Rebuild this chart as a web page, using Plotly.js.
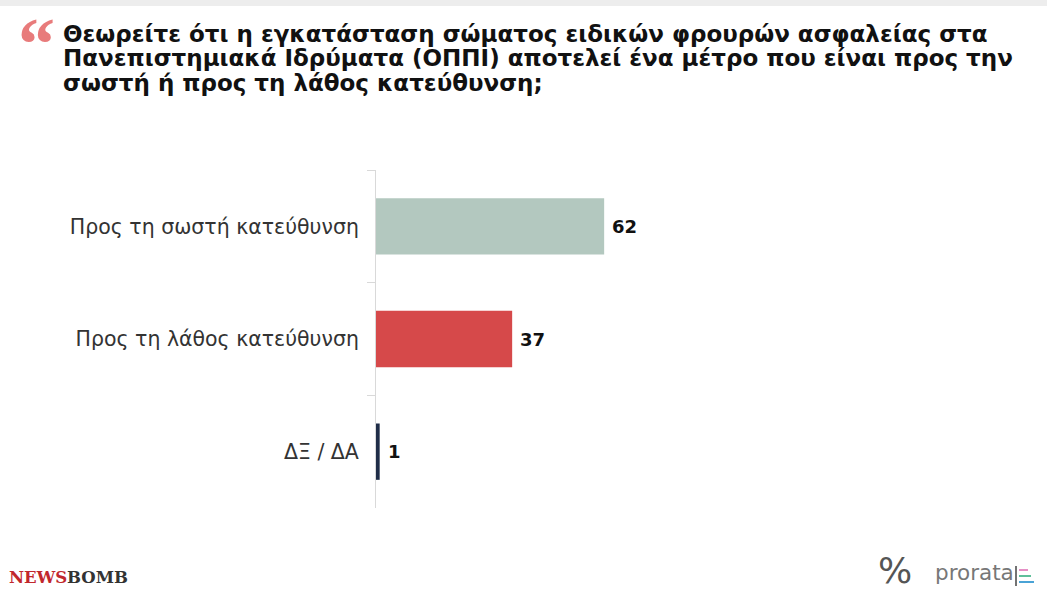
<!DOCTYPE html>
<html>
<head>
<meta charset="utf-8">
<script src="https://cdn.plot.ly/plotly-3.0.1.min.js"></script>
<style>html,body{margin:0;padding:0;background:#fff;}#chart{width:1047px;height:592px;}</style>
</head>
<body>
<div id="chart"></div>
<script>
const categories = ["Προς τη σωστή κατεύθυνση", "Προς τη λάθος κατεύθυνση", "ΔΞ / ΔΑ"];
const values = [62, 37, 1];
const barColors = ["#b3c8bf", "#d6494a", "#1f2d48"];
const titleLines = [
  "Θεωρείτε ότι η εγκατάσταση σώματος ειδικών φρουρών ασφαλείας στα",
  "Πανεπιστημιακά Ιδρύματα (ΟΠΠΙ) αποτελεί ένα μέτρο που είναι προς την",
  "σωστή ή προς τη λάθος κατεύθυνση;"
];

const W = 1047, H = 592, ML = 376, MR = 303, MT = 170, MB = 84;
const PW = W - ML - MR, PH = H - MT - MB;
const px = x => (x - ML) / PW;            // pixel -> paper x
const py = y => (H - MB - y) / PH;        // pixel -> paper y

const trace = {
  type: "bar",
  orientation: "h",
  x: values,
  y: categories,
  width: 0.5,
  marker: {color: barColors},
  hoverinfo: "none"
};

const valueAnnotations = values.map((v, i) => ({
  x: v, y: categories[i], xref: "x", yref: "y",
  text: "<b>" + v + "</b>", showarrow: false,
  xanchor: "left", yanchor: "middle", xshift: 6,
  font: {family: "DejaVu Sans", size: 18, color: "#111"}
}));

const titleAnnotations = titleLines.map((t, i) => ({
  xref: "paper", yref: "paper", x: px(61), y: py(33.5 + 25 * i),
  xanchor: "left", yanchor: "middle", showarrow: false,
  text: "<b>" + t + "</b>",
  font: {family: "DejaVu Sans", size: 23, color: "#111"}
}));

const layout = {
  width: W, height: H,
  paper_bgcolor: "#fff", plot_bgcolor: "#fff",
  margin: {l: ML, r: MR, t: MT, b: MB},
  showlegend: false,
  xaxis: {range: [0, 100], visible: false, fixedrange: true},
  yaxis: {
    type: "category",
    autorange: "reversed",
    showline: true, linecolor: "#d9d9d9", linewidth: 1,
    ticks: "outside", tickson: "boundaries", ticklen: 8, tickcolor: "#d9d9d9",
    ticklabelstandoff: 12,
    showgrid: false, zeroline: false,
    tickfont: {family: "DejaVu Sans", size: 20.5, color: "#333"}
  },
  shapes: [
    {type: "rect", xref: "paper", yref: "paper", x0: px(-5), x1: px(W + 5), y0: py(0), y1: py(6),
     fillcolor: "#ededed", line: {width: 0}, layer: "below"},
    {type: "line", xref: "paper", yref: "paper", x0: px(1016), x1: px(1016), y0: py(566), y1: py(586), line: {color: "#444", width: 1.5}},
    {type: "line", xref: "paper", yref: "paper", x0: px(1019), x1: px(1028), y0: py(570), y1: py(570), line: {color: "#e58fc5", width: 2}},
    {type: "line", xref: "paper", yref: "paper", x0: px(1019), x1: px(1031), y0: py(576), y1: py(576), line: {color: "#5fbf9a", width: 2}},
    {type: "line", xref: "paper", yref: "paper", x0: px(1019), x1: px(1034), y0: py(582), y1: py(582), line: {color: "#4aa3d6", width: 2}}
  ],
  annotations: valueAnnotations.concat(titleAnnotations, [
    {xref: "paper", yref: "paper", x: px(16), y: py(1), xanchor: "left", yanchor: "top",
     text: "<b>“</b>", showarrow: false, font: {family: "Liberation Serif", size: 74, color: "#e87b7b"}},
    {xref: "paper", yref: "paper", x: px(7), y: py(566), xanchor: "left", yanchor: "top",
     text: "<b><span style='color:#c1272d'>NEWS</span><span style='color:#333'>BOMB</span></b>", showarrow: false,
     font: {family: "DejaVu Serif", size: 16.5}},
    {xref: "paper", yref: "paper", x: px(876), y: py(548), xanchor: "left", yanchor: "top",
     text: "%", showarrow: false, font: {family: "DejaVu Sans", size: 36, color: "#555"}},
    {xref: "paper", yref: "paper", x: px(933), y: py(558), xanchor: "left", yanchor: "top",
     text: "prorata", showarrow: false, font: {family: "DejaVu Sans", size: 21.5, color: "#777"}}
  ])
};

Plotly.newPlot("chart", [trace], layout, {displayModeBar: false, staticPlot: true});
</script>
</body>
</html>
